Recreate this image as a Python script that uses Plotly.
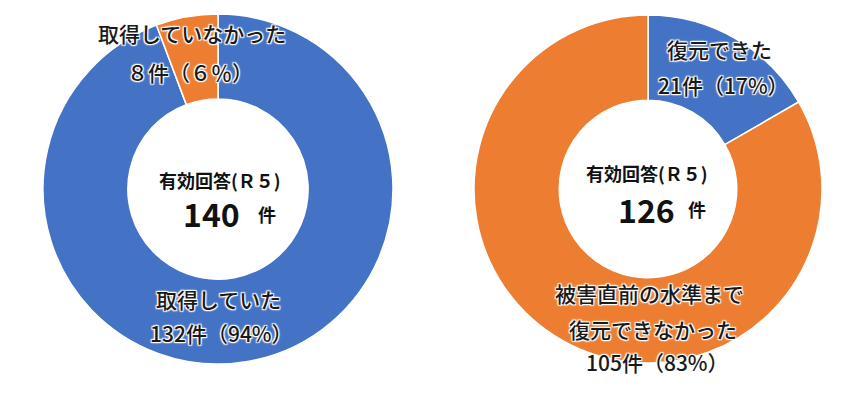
import plotly.graph_objects as go

W, H = 866, 398

# Data
left_labels = ["取得していた", "取得していなかった"]
left_values = [132, 8]
right_labels = ["復元できた", "被害直前の水準まで復元できなかった"]
right_values = [21, 105]
left_total = "140"
right_total = "126"

BLUE = "#4472C4"
ORANGE = "#ED7D31"
FONT = "Noto Sans CJK JP"
SHADOW = ("1px 1px 1px white, -1px -1px 1px white, 1px -1px 1px white, "
          "-1px 1px 1px white, 0 0 3px white")

fig = go.Figure()


def dom(cx, cy, r):
    return dict(x=[(cx - r) / W, (cx + r) / W],
                y=[1 - (cy + r) / H, 1 - (cy - r) / H])


fig.add_trace(go.Pie(
    labels=left_labels, values=left_values, sort=False, direction="clockwise",
    rotation=0, hole=0.515, textinfo="none", hoverinfo="label+value+percent",
    marker=dict(colors=[BLUE, ORANGE], line=dict(color="white", width=1.5)),
    domain=dom(218, 189, 175), showlegend=False,
))
fig.add_trace(go.Pie(
    labels=right_labels, values=right_values, sort=False, direction="clockwise",
    rotation=0, hole=0.51, textinfo="none", hoverinfo="label+value+percent",
    marker=dict(colors=[BLUE, ORANGE], line=dict(color="white", width=1.5)),
    domain=dom(648, 189, 174), showlegend=False,
))


def ann(text, px, py, size=21, bold=False, shadow=True, color="#1a1a1a",
        weight=500):
    fig.add_annotation(
        x=px / W, y=1 - py / H, xref="paper", yref="paper",
        text=text, showarrow=False,
        xanchor="center", yanchor="middle",
        font=dict(family=FONT, size=size, color=color,
                  weight="bold" if bold else weight,
                  shadow=SHADOW if shadow else "none"),
    )


# Left slice labels
ann(left_labels[1], 192, 33)
ann("８件（６％）", 190, 72)
ann(left_labels[0], 218, 299)
ann(f"{left_values[0]}件（94%）", 221, 333)

# Right slice labels
ann(right_labels[0], 719, 49)
ann(f"{right_values[0]}件（17%）", 723, 85)
ann("被害直前の水準まで", 649, 293)
ann("復元できなかった", 653, 329)
ann(f"{right_values[1]}件（83%）", 657, 362)

# Centers
ann("有効回答(Ｒ５)", 220, 180, size=18, bold=True, shadow=False, color="#111")
ann(left_total, 211, 213, size=32, bold=True, shadow=False, color="#111")
ann("件", 267, 214, size=18, bold=True, shadow=False, color="#111")

ann("有効回答(Ｒ５)", 647, 173, size=18, bold=True, shadow=False, color="#111")
ann(right_total, 646, 209, size=32, bold=True, shadow=False, color="#111")
ann("件", 697, 209, size=18, bold=True, shadow=False, color="#111")

fig.update_layout(
    width=W, height=H, margin=dict(l=0, r=0, t=0, b=0),
    paper_bgcolor="white", plot_bgcolor="white",
    font=dict(family=FONT),
)

fig.write_html("out.html", config={"displayModeBar": False},
               post_script="document.body.style.margin='0px';")
